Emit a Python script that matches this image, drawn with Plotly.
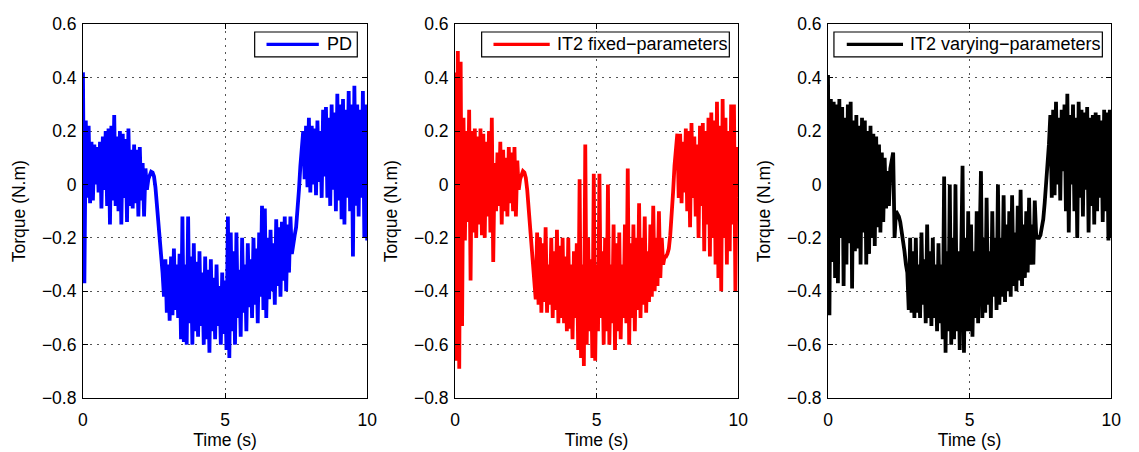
import numpy as np
import plotly.graph_objects as go

# sampling grid (s): 0.00, 0.05, ..., 10.00  (201 samples)
time_s = np.round(np.arange(201) * 0.05, 2)

# PD controller torque (N.m), one row per second
pd_torque = [
    0.42, -0.37, 0.24, -0.05, 0.22, -0.07, 0.16, -0.06, 0.15, 0.0, 0.14, -0.03, 0.16, -0.09, 0.18, -0.02, 0.2, -0.08, 0.21, -0.15,
    0.22, -0.06, 0.26, -0.08, 0.18, -0.1, 0.2, -0.15, 0.19, -0.05, 0.17, -0.14, 0.21, -0.08, 0.13, -0.09, 0.15, -0.07, 0.13, -0.12,
    0.14, -0.06, 0.08, -0.12, 0.06, -0.02, 0.02, 0.04, 0.048, 0.045, 0.03, -0.01, -0.07, -0.14, -0.21, -0.27, -0.33, -0.42, -0.28, -0.48,
    -0.3, -0.51, -0.27, -0.49, -0.24, -0.47, -0.3, -0.5, -0.26, -0.58, -0.12, -0.59, -0.3, -0.6, -0.12, -0.52, -0.27, -0.6, -0.22, -0.55,
    -0.29, -0.57, -0.25, -0.53, -0.33, -0.6, -0.27, -0.58, -0.32, -0.63, -0.28, -0.55, -0.35, -0.58, -0.3, -0.53, -0.38, -0.6, -0.33, -0.56,
    -0.36, -0.62, -0.12, -0.65, -0.18, -0.55, -0.25, -0.6, -0.18, -0.5, -0.32, -0.57, -0.2, -0.48, -0.3, -0.55, -0.22, -0.46, -0.28, -0.5,
    -0.2, -0.45, -0.24, -0.52, -0.18, -0.42, -0.08, -0.47, -0.09, -0.5, -0.2, -0.43, -0.17, -0.4, -0.22, -0.45, -0.13, -0.38, -0.16, -0.42,
    -0.14, -0.36, -0.12, -0.4, -0.15, -0.33, -0.12, -0.26, -0.21, -0.19, -0.16, -0.1, -0.02, 0.07, 0.15, 0.2, 0.02, 0.22, -0.01, 0.25,
    -0.03, 0.22, 0.0, 0.21, -0.04, 0.24, 0.01, 0.2, -0.05, 0.28, 0.03, 0.29, -0.05, 0.25, -0.08, 0.3, -0.02, 0.27, -0.1, 0.34,
    -0.06, 0.3, -0.13, 0.32, -0.15, 0.28, -0.05, 0.35, -0.1, 0.3, -0.27, 0.37, -0.08, 0.3, -0.12, 0.28, -0.05, 0.35, -0.2, 0.3,
    -0.21,
]

# IT2 fixed-parameters torque (N.m)
it2_fixed_torque = [
    0.42, -0.66, 0.5, -0.69, 0.46, -0.53, 0.25, -0.21, 0.2, -0.14, 0.28, -0.36, 0.2, -0.18, 0.21, -0.2, 0.18, -0.15, 0.21, -0.19,
    0.19, -0.2, 0.16, -0.12, 0.2, -0.18, 0.25, -0.29, 0.08, -0.1, 0.12, -0.08, 0.16, -0.15, 0.13, -0.1, 0.1, -0.12, 0.14, -0.07,
    0.12, -0.1, 0.14, -0.12, 0.09, -0.02, 0.02, 0.04, 0.05, 0.045, 0.025, -0.02, -0.09, -0.17, -0.25, -0.32, -0.38, -0.43, -0.18, -0.45,
    -0.2, -0.48, -0.22, -0.44, -0.16, -0.48, -0.3, -0.45, -0.2, -0.5, -0.25, -0.47, -0.17, -0.52, -0.23, -0.5, -0.2, -0.52, -0.27, -0.55,
    -0.2, -0.54, -0.3, -0.58, -0.25, -0.5, -0.22, -0.62, 0.02, -0.65, -0.3, -0.68, 0.15, -0.6, -0.2, -0.55, -0.28, -0.65, 0.04, -0.66,
    -0.3, -0.55, 0.04, -0.5, -0.25, -0.6, -0.2, -0.55, 0.0, -0.6, -0.3, -0.52, -0.15, -0.62, -0.22, -0.55, -0.18, -0.58, -0.3, -0.5,
    -0.15, -0.52, 0.06, -0.6, -0.22, -0.5, -0.15, -0.55, -0.2, -0.47, -0.07, -0.5, -0.2, -0.45, -0.12, -0.48, -0.25, -0.44, -0.15, -0.42,
    -0.08, -0.4, -0.2, -0.38, -0.1, -0.35, -0.2, -0.3, -0.27, -0.27, -0.26, -0.24, -0.19, -0.12, -0.03, 0.07, 0.16, 0.19, -0.05, 0.19,
    -0.07, 0.16, -0.03, 0.21, -0.1, 0.2, -0.16, 0.23, -0.05, 0.18, -0.12, 0.15, -0.2, 0.22, -0.08, 0.23, -0.25, 0.2, -0.15, 0.25,
    -0.27, 0.27, -0.2, 0.24, -0.3, 0.31, -0.35, 0.22, -0.4, 0.32, -0.2, 0.25, -0.3, 0.2, -0.25, 0.3, -0.15, 0.3, -0.4, 0.14,
    -0.05,
]

# IT2 varying-parameters torque (N.m)
it2_varying_torque = [
    0.41, -0.49, 0.32, -0.29, 0.31, -0.35, 0.3, -0.37, 0.32, -0.2, 0.29, -0.38, 0.25, -0.3, 0.3, -0.22, 0.31, -0.39, 0.24, -0.25,
    0.26, -0.24, 0.22, -0.3, 0.25, -0.18, 0.24, -0.3, 0.2, -0.26, 0.22, -0.2, 0.19, -0.23, 0.18, -0.16, 0.15, -0.18, 0.12, -0.14,
    0.1, -0.09, 0.05, -0.08, 0.06, 0.1, 0.12, -0.2, -0.1, -0.11, -0.12, -0.14, -0.17, -0.2, -0.25, -0.3, -0.33, -0.47, -0.2, -0.48,
    -0.25, -0.5, -0.2, -0.48, -0.3, -0.5, -0.18, -0.45, -0.28, -0.52, -0.15, -0.5, -0.25, -0.53, -0.2, -0.5, -0.3, -0.55, -0.22, -0.52,
    -0.3, -0.58, 0.03, -0.63, -0.25, -0.55, 0.0, -0.6, -0.2, -0.58, 0.0, -0.55, -0.25, -0.62, -0.15, 0.07, -0.63, -0.2, -0.55, -0.1,
    -0.55, -0.15, -0.57, -0.25, -0.5, -0.1, -0.52, -0.2, 0.05, -0.5, -0.2, -0.48, -0.05, -0.45, -0.25, -0.5, -0.1, -0.42, -0.2, -0.47,
    0.0, -0.45, -0.2, -0.42, -0.04, -0.44, -0.15, -0.4, -0.1, -0.42, -0.04, -0.38, -0.18, -0.4, -0.08, -0.36, -0.02, -0.38, -0.15, -0.35,
    -0.1, -0.33, -0.05, -0.3, -0.15, -0.3, -0.06, -0.19, -0.2, -0.2, -0.19, -0.16, -0.13, -0.07, 0.0, 0.06, 0.15, 0.26, -0.05, 0.28,
    -0.04, 0.31, 0.0, 0.25, -0.06, 0.28, 0.05, 0.3, -0.1, 0.34, -0.18, 0.26, 0.0, 0.3, -0.1, 0.25, -0.2, 0.31, -0.05, 0.28,
    -0.12, 0.27, -0.02, 0.29, -0.18, 0.25, -0.08, 0.26, -0.15, 0.27, -0.1, 0.26, -0.05, 0.24, -0.14, 0.28, -0.1, 0.27, -0.21, 0.28,
    -0.2,
]

series_names = ["PD", "IT2 fixed\u2212parameters", "IT2 varying\u2212parameters"]
series_colors = ["#0000FF", "#FF0000", "#000000"]
x_ticks = [0, 5, 10]
y_ticks = [-0.8, -0.6, -0.4, -0.2, 0, 0.2, 0.4, 0.6]
x_title = "Time (s)"
y_title = "Torque (N.m)"

W, H = 1139, 452
FONT = "Liberation Sans, Arial, Helvetica, sans-serif"
TICK_SIZE = 17.5
TITLE_SIZE = 17.5
LEG_SIZE = 18
LINE_W = 3.8

# panel pixel boxes (left, right) and common top/bottom
panels_px = [(79, 367), (456, 743), (834, 1121)]
top_px, bot_px = 15, 406
# legend box (left, right), sample line (x0, x1), text left — pixels
legend_box_px = [(253, 357), (483, 734), (840, 1112)]
legend_line_px = [(265, 318), (495, 552), (853, 910)]
legend_text_px = [324, 557, 915]
leg_top_px, leg_bot_px = 23, 49


def px_x(p):
    return p / W


def px_y(p):
    return 1 - p / H


fig = go.Figure()
all_series = [pd_torque, it2_fixed_torque, it2_varying_torque]

for i, (vals, name, col) in enumerate(zip(all_series, series_names, series_colors)):
    sfx = "" if i == 0 else str(i + 1)
    fig.add_trace(go.Scatter(
        x=time_s, y=vals, mode="lines", name=name,
        line=dict(color=col, width=LINE_W),
        xaxis="x" + sfx, yaxis="y" + sfx,
        showlegend=False,
    ))

layout = dict(
    width=W, height=H,
    margin=dict(l=0, r=0, t=0, b=0),
    paper_bgcolor="white", plot_bgcolor="white",
    font=dict(family=FONT, size=TICK_SIZE, color="black"),
    showlegend=False,
)

shapes = []
annotations = []
for i, (l, r) in enumerate(panels_px):
    sfx = "" if i == 0 else str(i + 1)
    xd = [px_x(l), px_x(r)]
    yd = [px_y(bot_px), px_y(top_px)]
    common = dict(
        showline=True, linecolor="black", linewidth=1, mirror="allticks",
        ticks="inside", ticklen=5, tickcolor="black", tickwidth=1,
        showgrid=True, gridcolor="#555555", gridwidth=1, griddash="2px,5px",
        zeroline=False, tickfont=dict(size=TICK_SIZE, family=FONT),
    )
    layout["xaxis" + sfx] = dict(
        domain=xd, range=[0, 10], tickvals=x_ticks, anchor="y" + sfx,
        ticklabelstandoff=6,
        title=dict(text=x_title, font=dict(size=TITLE_SIZE, family=FONT), standoff=4),
        **common,
    )
    layout["yaxis" + sfx] = dict(
        domain=yd, range=[-0.8, 0.6], tickvals=y_ticks, anchor="x" + sfx,
        ticklabelstandoff=2,
        title=dict(text=y_title, font=dict(size=TITLE_SIZE, family=FONT), standoff=11),
        **common,
    )
    # legend box drawn like MATLAB's: framed, line sample and label
    bl, br = legend_box_px[i]
    shapes.append(dict(type="rect", xref="paper", yref="paper",
                       x0=px_x(bl), x1=px_x(br), y0=px_y(leg_bot_px), y1=px_y(leg_top_px),
                       line=dict(color="black", width=1.2), fillcolor="white", layer="above"))
    lx0, lx1 = legend_line_px[i]
    ym = (leg_top_px + leg_bot_px) / 2
    shapes.append(dict(type="line", xref="paper", yref="paper",
                       x0=px_x(lx0), x1=px_x(lx1), y0=px_y(ym), y1=px_y(ym),
                       line=dict(color=series_colors[i], width=3.4), layer="above"))
    annotations.append(dict(xref="paper", yref="paper", x=px_x(legend_text_px[i]), y=px_y(ym),
                            xanchor="left", yanchor="middle", showarrow=False,
                            text=series_names[i], font=dict(size=LEG_SIZE, family=FONT, color="black")))

layout["shapes"] = shapes
layout["annotations"] = annotations
fig.update_layout(**layout)
fig.write_html("out.html")
